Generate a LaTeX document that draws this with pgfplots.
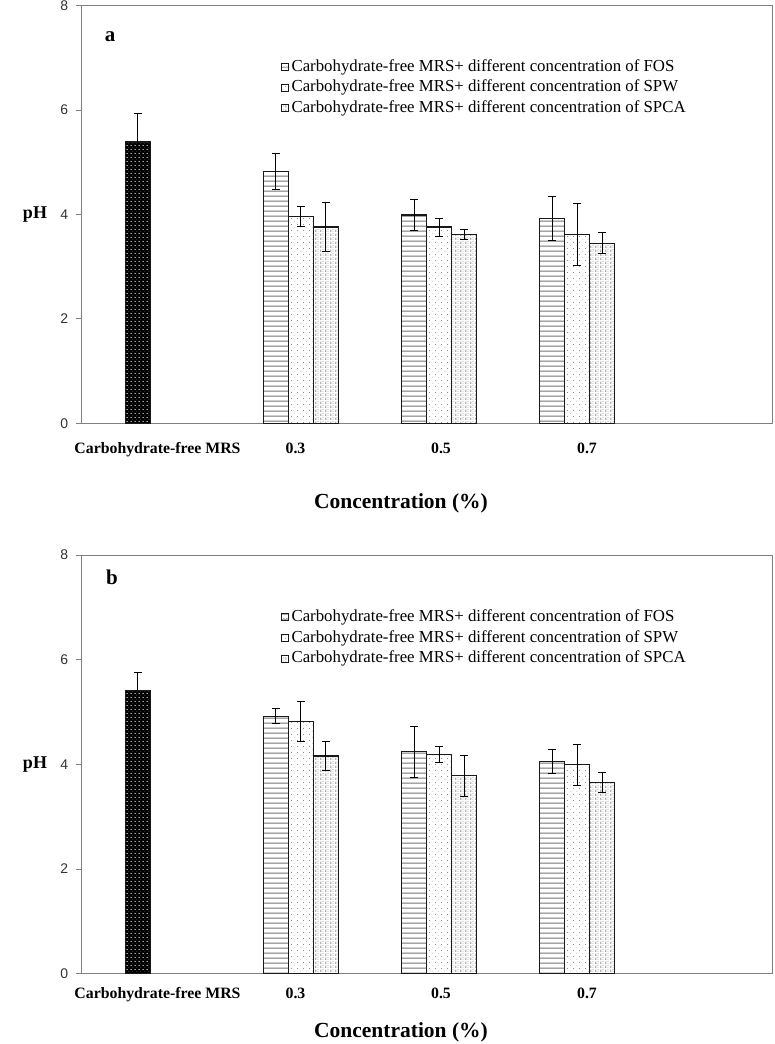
\documentclass[border=0pt]{standalone}
\usepackage{fontspec}
\setmainfont{Liberation Serif}
\newfontfamily\arial{Liberation Sans}
\usepackage{pgfplots}
\usepackage{pgfplotstable}
\pgfplotsset{compat=1.18}
\usetikzlibrary{patterns}

% patterns
\pgfdeclarepatterninherentlycolored{wavep}{\pgfpointorigin}{\pgfqpoint{2.4pt}{4.6pt}}{\pgfqpoint{2.4pt}{4.6pt}}{%
  \pgfsetstrokecolor{black!55}\pgfsetlinewidth{0.5pt}%
  \pgfpathmoveto{\pgfqpoint{0pt}{2.6pt}}\pgfpathlineto{\pgfqpoint{1.2pt}{1.4pt}}%
  \pgfpathmoveto{\pgfqpoint{1.2pt}{2.6pt}}\pgfpathlineto{\pgfqpoint{2.4pt}{1.4pt}}\pgfusepath{stroke}}
\pgfdeclarepatterninherentlycolored{sparsep}{\pgfpointorigin}{\pgfqpoint{6pt}{6pt}}{\pgfqpoint{6pt}{6pt}}{%
  \pgfsetfillcolor{black!60}%
  \pgfpathcircle{\pgfqpoint{1pt}{1pt}}{0.45pt}\pgfpathcircle{\pgfqpoint{4pt}{4pt}}{0.45pt}\pgfusepath{fill}}
\pgfdeclarepatterninherentlycolored{vdashp}{\pgfpointorigin}{\pgfqpoint{5pt}{4pt}}{\pgfqpoint{5pt}{4pt}}{%
  \pgfsetstrokecolor{black!85}\pgfsetlinewidth{0.65pt}%
  \pgfpathmoveto{\pgfqpoint{1pt}{0.3pt}}\pgfpathlineto{\pgfqpoint{1pt}{3.0pt}}\pgfusepath{stroke}%
  \pgfsetfillcolor{black!40}%
  \pgfpathrectangle{\pgfqpoint{3.1pt}{0.6pt}}{\pgfqpoint{0.9pt}{0.9pt}}%
  \pgfpathrectangle{\pgfqpoint{3.1pt}{2.6pt}}{\pgfqpoint{0.9pt}{0.9pt}}\pgfusepath{fill}}
\pgfdeclarepatterninherentlycolored{ctrldots}{\pgfpointorigin}{\pgfqpoint{4pt}{4pt}}{\pgfqpoint{4pt}{4pt}}{%
  \pgfsetfillcolor{black!40}%
  \pgfpathcircle{\pgfqpoint{1pt}{1pt}}{0.45pt}\pgfpathcircle{\pgfqpoint{3pt}{3pt}}{0.45pt}\pgfusepath{fill}}

% data: x position (pt from axis left), mean pH, error
\pgfplotstableread{
x y e
55.9 5.39 0.54
}\ctrlA
\pgfplotstableread{
x y e
194.1 4.83 0.35
332.3 3.99 0.29
470.5 3.92 0.42
}\fosA
\pgfplotstableread{
x y e
219.1 3.96 0.19
357.3 3.76 0.17
495.5 3.62 0.60
}\spwA
\pgfplotstableread{
x y e
244.1 3.76 0.47
382.3 3.62 0.09
520.5 3.45 0.20
}\spcaA
\pgfplotstableread{
x y e
55.9 5.41 0.34
}\ctrlB
\pgfplotstableread{
x y e
194.1 4.92 0.14
332.3 4.24 0.48
470.5 4.06 0.23
}\fosB
\pgfplotstableread{
x y e
219.1 4.82 0.39
357.3 4.19 0.16
495.5 3.99 0.39
}\spwB
\pgfplotstableread{
x y e
244.1 4.16 0.27
382.3 3.78 0.39
520.5 3.65 0.19
}\spcaB

\pgfplotsset{
  panel/.style={
    scale only axis, width=691pt,
    xmin=0, xmax=691, ymin=0, ymax=8,
    xtick=\empty, ytick={0,2,4,6,8},
    axis line style={black!50, line width=0.9pt},
    ytick style={black!50, line width=0.9pt},
    major tick length=6pt, tick align=outside, ytick pos=left,
    /pgf/number format/assume math mode=true,
    yticklabel style={font=\arial\fontsize{14}{14}\selectfont, text=black!80, xshift=-4pt},
    clip=false,
    legend cell align=left,
    legend style={draw=none, fill=none, inner sep=0pt, anchor=north west,
      font=\fontsize{16.8}{16.8}\selectfont, row sep=4.3pt,
      nodes={inner xsep=2.5pt, inner ysep=0pt, text height=12.5pt, text depth=4pt}},
  },
  bars/.style={ybar, bar width=25pt, bar shift=0pt, draw=black!90, line width=1.2pt,
    error bars/.cd, y dir=both, y explicit,
    error bar style={black, line width=0.8pt, solid},
    error mark options={rotate=90, black, line width=0.8pt, mark size=4pt, solid},
    /pgfplots/.cd,
    legend image code/.code={\draw[##1, line width=0.8pt] (0pt,-3.5pt) rectangle (7pt,3.5pt);}},
}

\newcommand{\labels}[4]{%
  \node[anchor=base, font=\bfseries\fontsize{15.8}{15.8}\selectfont] at ([yshift=-#1]axis cs:75.8,0) {Carbohydrate-free MRS};
  \node[anchor=base, font=\bfseries\fontsize{15.8}{15.8}\selectfont] at ([yshift=-#1]axis cs:213.8,0) {0.3};
  \node[anchor=base, font=\bfseries\fontsize{15.8}{15.8}\selectfont] at ([yshift=-#1]axis cs:359.3,0) {0.5};
  \node[anchor=base, font=\bfseries\fontsize{15.8}{15.8}\selectfont] at ([yshift=-#1]axis cs:505.3,0) {0.7};
  \node[anchor=base, font=\bfseries\fontsize{21.5}{21.5}\selectfont] at ([yshift=-#2]axis cs:319.3,0) {Concentration (\%)};
  \node[font=\bfseries\fontsize{18}{18}\selectfont] at ([xshift=-46.7pt]axis cs:0,4) {pH};
  \node[font=\bfseries\fontsize{21}{21}\selectfont] at (axis cs:#3) {#4};
}

\begin{document}
\begin{tikzpicture}
\useasboundingbox (0,0) rectangle (774pt,-1044pt);

\begin{axis}[panel, at={(81.7pt,-423.3pt)}, anchor=south west, height=417.6pt,
  legend style={at={(rel axis cs:0.2885,0.874)}}]
  \addplot[bars, fill=black, postaction={pattern=ctrldots}, forget plot] table[x=x, y=y, y error=e] {\ctrlA};
  \addplot[bars, pattern=wavep] table[x=x, y=y, y error=e] {\fosA};
  \addplot[bars, pattern=sparsep] table[x=x, y=y, y error=e] {\spwA};
  \addplot[bars, pattern=vdashp] table[x=x, y=y, y error=e] {\spcaA};
  \legend{Carbohydrate-free MRS+ different concentration of FOS,
          Carbohydrate-free MRS+ different concentration of SPW,
          Carbohydrate-free MRS+ different concentration of SPCA}
  \labels{29.7pt}{85.5pt}{28.3,7.41}{a}
\end{axis}

\begin{axis}[panel, at={(81.7pt,-973.7pt)}, anchor=south west, height=418.7pt,
  legend style={at={(rel axis cs:0.2885,0.872)}}]
  \addplot[bars, fill=black, postaction={pattern=ctrldots}, forget plot] table[x=x, y=y, y error=e] {\ctrlB};
  \addplot[bars, pattern=wavep] table[x=x, y=y, y error=e] {\fosB};
  \addplot[bars, pattern=sparsep] table[x=x, y=y, y error=e] {\spwB};
  \addplot[bars, pattern=vdashp] table[x=x, y=y, y error=e] {\spcaB};
  \legend{Carbohydrate-free MRS+ different concentration of FOS,
          Carbohydrate-free MRS+ different concentration of SPW,
          Carbohydrate-free MRS+ different concentration of SPCA}
  \labels{25pt}{63.4pt}{30.3,7.58}{b}
\end{axis}
\end{tikzpicture}
\end{document}
